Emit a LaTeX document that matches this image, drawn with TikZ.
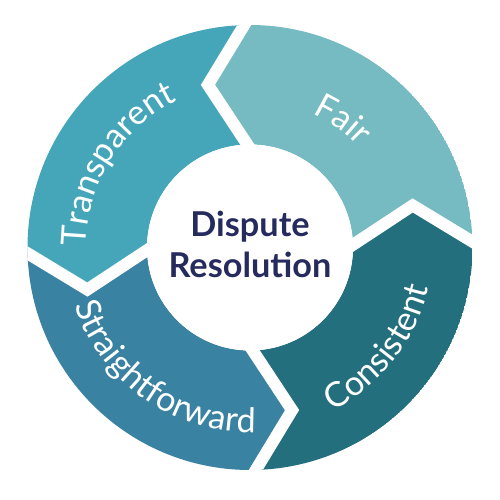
\documentclass[tikz,border=0pt]{standalone}
\usepackage{fontspec}
\setmainfont{Lato}
\usepackage{xcolor}
\usepackage{tikz}
\usetikzlibrary{calc,decorations.text}

\definecolor{fairteal}{RGB}{118,187,193}
\definecolor{transpteal}{RGB}{70,166,185}
\definecolor{straightblue}{RGB}{58,130,161}
\definecolor{consistteal}{RGB}{35,111,126}
\definecolor{hubnavy}{RGB}{38,43,94}
\newcommand{\ringfont}{\fontsize{19.5}{22}\selectfont}

\begin{document}
\begin{tikzpicture}[
    gapline/.style={white, line width=0.24cm},
    ringlabel/.style={decorate, decoration={text along path, text align=center, text color=white}},
    hubtext/.style={text=hubnavy, font=\bfseries\fontsize{19.5}{23.3}\selectfont, align=center}
]
    \useasboundingbox (-5,-5.05) rectangle (5,4.95);
    % chevron points between the four parts
    \foreach \k/\a in {1/1.5, 2/91.5, 3/181.5, 4/271.5} {
        \coordinate (in\k) at (\a:2.06);
        \coordinate (tip\k) at (\a+13:3.36);
        \coordinate (out\k) at (\a:4.45);
    }
    \begin{scope}
        \clip (0,0) circle (4.45);
        \fill[fairteal] (in1) -- (tip1) -- (out1) arc[start angle=1.5, end angle=91.5, radius=4.45] -- (tip2) -- (in2) arc[start angle=91.5, end angle=1.5, radius=2.06] -- cycle;
        \fill[transpteal] (in2) -- (tip2) -- (out2) arc[start angle=91.5, end angle=181.5, radius=4.45] -- (tip3) -- (in3) arc[start angle=181.5, end angle=91.5, radius=2.06] -- cycle;
        \fill[straightblue] (in3) -- (tip3) -- (out3) arc[start angle=181.5, end angle=271.5, radius=4.45] -- (tip4) -- (in4) arc[start angle=271.5, end angle=181.5, radius=2.06] -- cycle;
        \fill[consistteal] (in4) -- (tip4) -- (out4) arc[start angle=271.5, end angle=361.5, radius=4.45] -- (tip1) -- (in1) arc[start angle=361.5, end angle=271.5, radius=2.06] -- cycle;
        \foreach \k in {1,...,4}
            \draw[gapline] ($(tip\k)!1.3!(in\k)$) -- (tip\k) -- ($(tip\k)!1.3!(out\k)$);
    \end{scope}
    \node[circle, fill=white, minimum size=4.12cm, inner sep=0pt] (hubdisc) at (0,0) {};
    \node[hubtext] (hub) at (0,0.06) {Dispute\\Resolution};

    % labels along the ring
    \path[ringlabel, decoration={text={|\ringfont|Fair}}] (100:2.96) arc[start angle=100, end angle=8, radius=2.96];
    \path[ringlabel, decoration={text={|\ringfont|Transparent}}] (200:3.28) arc[start angle=200, end angle=96, radius=3.28];
    \path[ringlabel, decoration={text={|\ringfont|Straightforward}}] (176:3.7) arc[start angle=176, end angle=294, radius=3.7];
    \path[ringlabel, decoration={text={|\ringfont|Consistent}}] (270:3.66) arc[start angle=270, end angle=374, radius=3.66];
\end{tikzpicture}
\end{document}
